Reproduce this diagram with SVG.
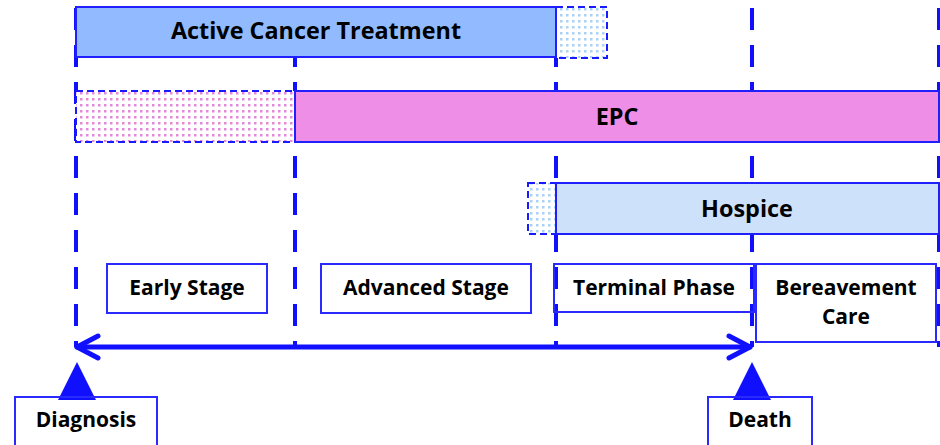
<svg xmlns="http://www.w3.org/2000/svg" width="940" height="445" viewBox="0 0 940 445">
<defs>
<style>
.vl{stroke:#1010ff;stroke-width:4;stroke-dasharray:22 15;fill:none}
.bar{stroke:#2020ff;stroke-width:2}
.ext{stroke:#1a1aff;stroke-width:2;stroke-dasharray:7 4}
.box{fill:none;stroke:#2a2aff;stroke-width:2}
.t{font-family:"Open Sans","Liberation Sans",sans-serif;font-weight:bold;fill:#000;text-anchor:middle}
.big{font-size:23.4px}
.sm{font-size:21px}
.conn{stroke:#1010ff;stroke-width:5;fill:none;stroke-linecap:round;stroke-linejoin:round}
.tri{fill:#1010ff}
</style>
<pattern id="dotPink" width="6" height="6" patternUnits="userSpaceOnUse">
<rect width="6" height="6" fill="#fff"/>
<rect x="2" y="2" width="2.5" height="2.5" fill="#e28ad8"/>
</pattern>
<pattern id="dotBlue" width="6" height="6" patternUnits="userSpaceOnUse">
<rect width="6" height="6" fill="#fff"/>
<rect x="2" y="2" width="2.5" height="2.5" fill="#a9d2f6"/>
</pattern>
</defs>
<rect width="940" height="445" fill="#fff"/>
<g id="connectors">
<line class="vl" x1="76" y1="8" x2="76" y2="347"/>
<line class="vl" x1="295" y1="8" x2="295" y2="347"/>
<line class="vl" x1="556" y1="8" x2="556" y2="347"/>
<line class="vl" x1="752" y1="8" x2="752" y2="347"/>
<line class="vl" x1="939" y1="8" x2="939" y2="347"/>
<line class="conn" x1="77" y1="347" x2="750" y2="347"/>
<polyline class="conn" points="98,336 77,347 98,358"/>
<polyline class="conn" points="729,336 750,347 729,358"/>
</g>
<g id="active-cancer-treatment">
<rect class="ext" x="556" y="7" width="51" height="51" fill="url(#dotBlue)"/>
<rect class="bar" x="76" y="7" width="480" height="50" fill="#91bbfe"/>
<text class="t big" x="316" y="39">Active Cancer Treatment</text>
</g>
<g id="epc">
<rect class="ext" x="76" y="91" width="219" height="51" fill="url(#dotPink)"/>
<rect class="bar" x="295" y="91" width="644" height="51" fill="#ee8ee6"/>
<text class="t big" x="617" y="125">EPC</text>
</g>
<g id="hospice">
<rect class="ext" x="528" y="183" width="28" height="51" fill="url(#dotBlue)"/>
<rect class="bar" x="556" y="183" width="383" height="51" fill="#cde1fa"/>
<text class="t big" x="747" y="217">Hospice</text>
</g>
<g id="early-stage">
<rect class="box" x="107" y="264" width="160" height="49"/>
<text class="t sm" x="187" y="295">Early Stage</text>
</g>
<g id="advanced-stage">
<rect class="box" x="321" y="264" width="210" height="49"/>
<text class="t sm" x="426" y="295">Advanced Stage</text>
</g>
<g id="terminal-phase">
<rect class="box" x="554" y="264" width="200" height="48"/>
<text class="t sm" x="654" y="295">Terminal Phase</text>
</g>
<g id="bereavement-care">
<rect class="box" x="756" y="264" width="180" height="78"/>
<text class="t sm" x="846" y="295">Bereavement</text>
<text class="t sm" x="846" y="324">Care</text>
</g>
<g id="diagnosis">
<polygon class="tri" points="77,362 96,400 58,400"/>
<rect class="box" x="15" y="397" width="142" height="50"/>
<text class="t sm" x="86" y="427">Diagnosis</text>
</g>
<g id="death">
<polygon class="tri" points="752,362 771,400 733,400"/>
<rect class="box" x="708" y="397" width="104" height="50"/>
<text class="t sm" x="760" y="427">Death</text>
</g>
</svg>
